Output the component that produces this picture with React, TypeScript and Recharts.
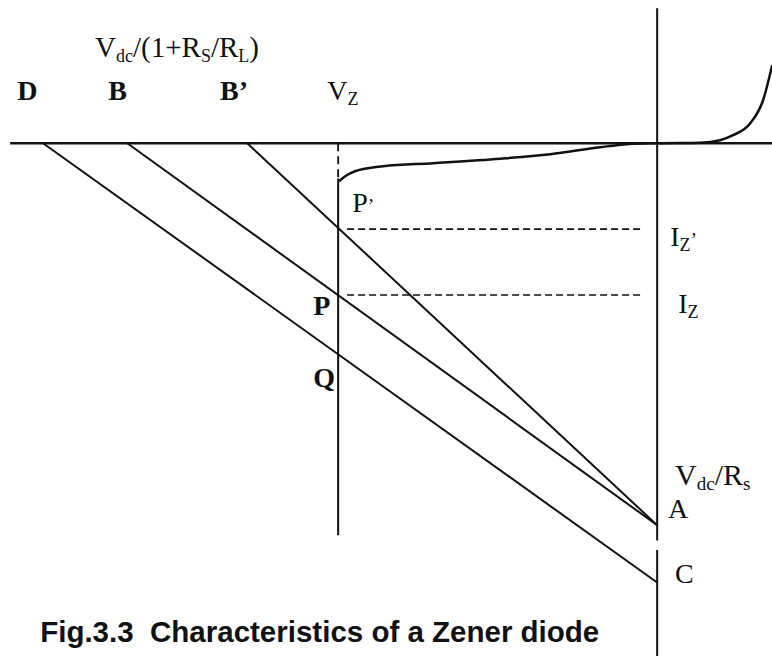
import React from "react";
import { ComposedChart, ReferenceDot, ReferenceLine, Scatter, XAxis, YAxis } from "recharts";

// Axes ranges (reverse voltage to the left, reverse current downward)
const X_DOMAIN: [number, number] = [-20.6, 3.6];
const Y_DOMAIN: [number, number] = [-53.7, 15];

const VZ = -10;
const IZ_PRIME = -9.0;
const IZ = -15.9;
const IZ_DASH_FROM = -9.72;
const IZ_DASH_TO = -0.44;

// Load lines: intercepts on the voltage axis (D, B, B') and on the current axis (A, C)
const lineD = [
  { x: -19.25, y: 0 },
  { x: 0, y: -46 },
];
const lineB = [
  { x: -16.61, y: 0 },
  { x: 0, y: -40 },
];
const lineBPrime = [
  { x: -12.85, y: 0 },
  { x: 0, y: -40 },
];

// Zener characteristic: knee near Vz, forward conduction on the right
const zenerCurve = [
  { x: -9.97, y: -3.98 },
  { x: -9.78, y: -3.46 },
  { x: -9.47, y: -2.93 },
  { x: -8.59, y: -2.41 },
  { x: -7.02, y: -2.09 },
  { x: -4.92, y: -1.62 },
  { x: -3.35, y: -1.15 },
  { x: -1.79, y: -0.42 },
  { x: -0.94, y: -0.1 },
  { x: 0, y: 0 },
  { x: 1.35, y: 0.05 },
  { x: 1.97, y: 0.31 },
  { x: 2.38, y: 0.84 },
  { x: 2.92, y: 2.09 },
  { x: 3.32, y: 4.5 },
  { x: 3.605, y: 8.17 },
];
const breakdown = [
  { x: VZ, y: -3.7 },
  { x: VZ, y: -41.05 },
];

type Part = { t: string; sub?: boolean; small?: boolean };
type Note = { id: string; x: number; y: number; parts: Part[]; size: number; bold?: boolean; sans?: boolean };

const notes: Note[] = [
  {
    id: "vb",
    x: -17.62,
    y: 9.0,
    size: 29,
    parts: [{ t: "V" }, { t: "dc", sub: true }, { t: "/(1+R" }, { t: "S", sub: true }, { t: "/R" }, { t: "L", sub: true }, { t: ")" }],
  },
  { id: "D", x: -20.06, y: 4.5, size: 28, bold: true, parts: [{ t: "D" }] },
  { id: "B", x: -17.21, y: 4.5, size: 28, bold: true, parts: [{ t: "B" }] },
  { id: "B'", x: -13.7, y: 4.5, size: 28, bold: true, parts: [{ t: "B’" }] },
  { id: "Vz", x: -10.34, y: 4.5, size: 28, parts: [{ t: "V" }, { t: "Z", sub: true }] },
  { id: "P'", x: -9.56, y: -7.23, size: 28, parts: [{ t: "P" }, { t: "’", small: true }] },
  { id: "Iz'", x: 0.41, y: -10.79, size: 28, parts: [{ t: "I" }, { t: "Z", sub: true }, { t: "’", small: true }] },
  { id: "Iz", x: 0.66, y: -17.8, size: 28, parts: [{ t: "I" }, { t: "Z", sub: true }] },
  { id: "P", x: -10.78, y: -18.0, size: 28, bold: true, parts: [{ t: "P" }] },
  { id: "Q", x: -10.78, y: -25.5, size: 28, bold: true, parts: [{ t: "Q" }] },
  { id: "vr", x: 0.56, y: -35.8, size: 30, parts: [{ t: "V" }, { t: "dc", sub: true }, { t: "/R" }, { t: "s", sub: true }] },
  { id: "A", x: 0.34, y: -39.3, size: 28, parts: [{ t: "A" }] },
  { id: "C", x: 0.56, y: -46.1, size: 28, parts: [{ t: "C" }] },
  {
    id: "title",
    x: -19.34,
    y: -52.25,
    size: 29.5,
    bold: true,
    sans: true,
    parts: [{ t: "Fig.3.3  Characteristics of a Zener diode" }],
  },
];

function NoteText({ note, cx, cy }: { note: Note; cx?: number; cy?: number }) {
  if (cx == null || cy == null) return null;
  let shift = 0;
  const subSize = Math.round(note.size * 0.63);
  return (
    <text
      x={cx}
      y={cy}
      fill="#111"
      fontFamily={note.sans ? "'Liberation Sans', Arial, sans-serif" : "'Liberation Serif', 'Times New Roman', serif"}
      fontWeight={note.bold ? "bold" : "normal"}
      fontSize={note.size}
      style={{ whiteSpace: "pre" }}
    >
      {note.parts.map((p, i) => {
        const target = p.sub ? 5 : 0;
        const dy = target - shift;
        shift = target;
        return (
          <tspan key={i} dy={dy} fontSize={p.sub ? subSize : p.small ? note.size * 0.7 : note.size}>
            {p.t}
          </tspan>
        );
      })}
    </text>
  );
}

const ink = "#111";
const noMarker = () => <g />;

export default function App() {
  return (
    <div style={{ position: "absolute", left: 0, top: 0, width: 772, height: 656, background: "#fff" }}>
      <ComposedChart width={772} height={656} margin={{ top: 0, right: 0, bottom: 0, left: 0 }}>
        <XAxis type="number" dataKey="x" domain={X_DOMAIN} hide allowDataOverflow />
        <YAxis type="number" dataKey="y" domain={Y_DOMAIN} hide allowDataOverflow />

        {/* current and voltage axes */}
        <ReferenceLine segment={[{ x: -20.28, y: 0 }, { x: 3.6, y: 0 }]} stroke={ink} strokeWidth={2.5} />
        <ReferenceLine segment={[{ x: 0, y: 14.14 }, { x: 0, y: -41.6 }]} stroke={ink} strokeWidth={2} />
        <ReferenceLine segment={[{ x: 0, y: -42.6 }, { x: 0, y: -53.7 }]} stroke={ink} strokeWidth={2} />

        {/* Vz marker and operating currents */}
        <ReferenceLine segment={[{ x: VZ, y: 0 }, { x: VZ, y: -3.66 }]} stroke={ink} strokeWidth={1.8} strokeDasharray="8 5" />
        <ReferenceLine segment={[{ x: IZ_DASH_FROM, y: IZ_PRIME }, { x: IZ_DASH_TO, y: IZ_PRIME }]} stroke={ink} strokeWidth={1.6} strokeDasharray="7 4" />
        <ReferenceLine segment={[{ x: IZ_DASH_FROM, y: IZ }, { x: IZ_DASH_TO, y: IZ }]} stroke={ink} strokeWidth={1.6} strokeDasharray="7 4" />

        <Scatter data={lineD} line={{ stroke: ink, strokeWidth: 2 }} shape={noMarker} isAnimationActive={false} />
        <Scatter data={lineB} line={{ stroke: ink, strokeWidth: 2 }} shape={noMarker} isAnimationActive={false} />
        <Scatter data={lineBPrime} line={{ stroke: ink, strokeWidth: 2 }} shape={noMarker} isAnimationActive={false} />
        <Scatter data={zenerCurve} line={{ stroke: ink, strokeWidth: 2.5 }} lineJointType="monotoneX" shape={noMarker} isAnimationActive={false} />
        <Scatter data={breakdown} line={{ stroke: ink, strokeWidth: 2 }} shape={noMarker} isAnimationActive={false} />

        {notes.map((n) => (
          <ReferenceDot
            key={n.id}
            x={n.x}
            y={n.y}
            r={0}
            stroke="none"
            fill="none"
            shape={(p: { cx?: number; cy?: number }) => <NoteText note={n} cx={p.cx} cy={p.cy} />}
          />
        ))}
      </ComposedChart>
    </div>
  );
}
